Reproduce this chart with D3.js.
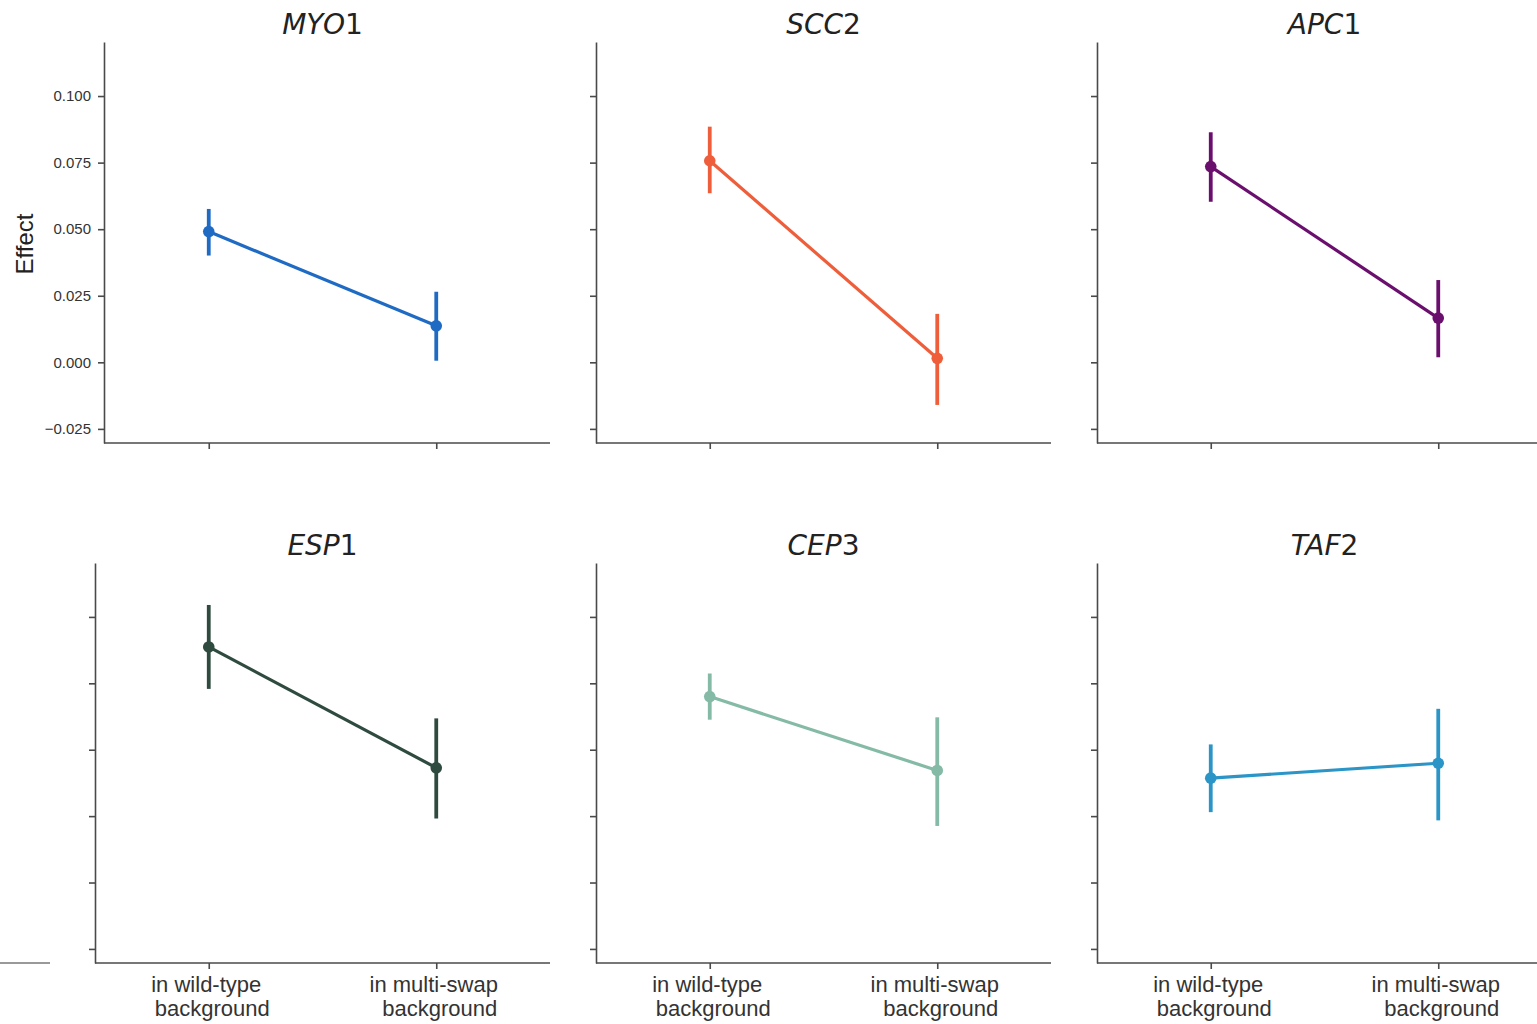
<!DOCTYPE html>
<html lang="en">
<head>
    <meta charset="UTF-8">
    <title>Gene effects by background</title>
    <script src="https://cdn.jsdelivr.net/npm/d3@7"></script>
    <style>
        body { margin: 0; background: #fff; }
        svg { display: block; }
        .tick text { font-family: "Liberation Sans", Arial, sans-serif; fill: #333; }
    </style>
</head>
<body>
    <div id="graphic"></div>

    <script>
        // gene names: italic letters + upright number
        var geneLetters = ["MYO", "SCC", "APC", "ESP", "CEP", "TAF"];
        var geneNumbers = ["1", "2", "1", "1", "3", "2"];
        var conditions = ["in wild-type background", "in multi-swap background"];
        var conditionLines = [["in wild-type", "background"], ["in multi-swap", "background"]];

        // point estimates and CI ends
        var effectMean = [
            [0.0491, 0.0137],
            [0.0757, 0.0015],
            [0.0735, 0.0166],
            [0.0887, 0.0432],
            [0.0700, 0.0422],
            [0.0393, 0.0449]
        ];
        var ciLow = [
            [0.0401, 0.0006],
            [0.0635, -0.0160],
            [0.0603, 0.0019],
            [0.0729, 0.0241],
            [0.0613, 0.0213],
            [0.0265, 0.0234]
        ];
        var ciHigh = [
            [0.0576, 0.0265],
            [0.0885, 0.0182],
            [0.0864, 0.0309],
            [0.1045, 0.0618],
            [0.0787, 0.0622],
            [0.0520, 0.0654]
        ];
        var colors = ["#1f6bc4", "#ee5e3b", "#6b0f6e", "#2f4b3f", "#85bba6", "#2b95c7"];
        var yTicks = [-0.025, 0.000, 0.025, 0.050, 0.075, 0.100];
        var yDomain = [-0.0303, 0.1203];

        var width = 1537;
        var height = 1024;

        // panel layout
        var colX = [[95, 550], [596, 1051], [1097, 1552]];
        var rowY = [[42, 443], [563, 963]];
        var spineX = [104, 596, 1097, 95, 596, 1097];
        var axisColor = "#4a4a4a";

        var svg = d3.select('#graphic')
                    .append('svg')
                    .attr('width', width)
                    .attr('height', height);

        // stray axis stub at the left edge of the source image
        svg.append('line')
            .attr('x1', 0).attr('x2', 50)
            .attr('y1', 963).attr('y2', 963)
            .attr('stroke', '#777')
            .attr('stroke-width', 1.6);

        geneLetters.forEach(function(gene, i) {
            var col = i % 3;
            var row = Math.floor(i / 3);
            var x0 = colX[col][0], x1 = colX[col][1];
            var yTop = rowY[row][0], yBottom = rowY[row][1];

            var x = d3.scalePoint()
                .domain(conditions)
                .range([x0, x1])
                .padding(0.5);

            var y = d3.scaleLinear()
                .domain(yDomain)
                .range([yBottom, yTop]);

            var panel = svg.append('g').attr('class', 'panel');

            // y axis
            var yAxis = d3.axisLeft(y)
                .tickValues(yTicks)
                .tickSize(6)
                .tickSizeOuter(0)
                .tickPadding(7)
                .tickFormat(i === 0 ? d3.format(".3f") : "");
            var yg = panel.append('g')
                .attr('transform', 'translate(' + spineX[i] + ',0)')
                .call(yAxis);
            yg.selectAll('text').style('font-size', '15px');

            // x axis
            var xAxis = d3.axisBottom(x)
                .tickSize(6)
                .tickSizeOuter(0)
                .tickFormat("");
            var xg = panel.append('g')
                .attr('transform', 'translate(0,' + yBottom + ')')
                .call(xAxis);
            xg.select('.domain').attr('d', 'M' + spineX[i] + ',0H' + x1);

            panel.selectAll('.domain, .tick line')
                .attr('stroke', axisColor)
                .attr('stroke-width', 1.6);

            // two-line category labels on the bottom row only
            if (row === 1) {
                xg.selectAll('.tick').each(function(d, k) {
                    var t = d3.select(this).append('text')
                        .attr('fill', '#333')
                        .attr('text-anchor', 'middle')
                        .style('font-family', '"Liberation Sans", Arial, sans-serif')
                        .style('font-size', '22px');
                    conditionLines[k].forEach(function(line, j) {
                        t.append('tspan')
                            .attr('x', j === 0 ? -3 : 3)
                            .attr('y', 29 + j * 24)
                            .text(line);
                    });
                });
            }

            // title
            var title = panel.append('text')
                .attr('x', (x0 + x1) / 2)
                .attr('y', yTop - 8)
                .attr('text-anchor', 'middle')
                .attr('fill', '#222')
                .style('font-family', '"DejaVu Sans", sans-serif')
                .style('font-size', '28px');
            title.append('tspan').style('font-style', 'italic').text(gene);
            title.append('tspan').text(geneNumbers[i]);

            var pts = conditions.map(function(c, k) {
                return { cond: c, mean: effectMean[i][k], lo: ciLow[i][k], hi: ciHigh[i][k] };
            });

            // error bars
            panel.selectAll('.ci')
                .data(pts)
                .join('line')
                .attr('class', 'ci')
                .attr('x1', d => x(d.cond))
                .attr('x2', d => x(d.cond))
                .attr('y1', d => y(d.lo))
                .attr('y2', d => y(d.hi))
                .attr('stroke', colors[i])
                .attr('stroke-width', 3.8);

            // connecting line
            var line = d3.line()
                .x(d => x(d.cond))
                .y(d => y(d.mean));
            panel.append('path')
                .datum(pts)
                .attr('d', line)
                .attr('fill', 'none')
                .attr('stroke', colors[i])
                .attr('stroke-width', 3.2);

            // points
            panel.selectAll('.pt')
                .data(pts)
                .join('circle')
                .attr('class', 'pt')
                .attr('cx', d => x(d.cond))
                .attr('cy', d => y(d.mean))
                .attr('r', 5.8)
                .attr('fill', colors[i]);
        });

        // shared y label
        svg.append('text')
            .attr('transform', 'translate(33,244) rotate(-90)')
            .attr('text-anchor', 'middle')
            .attr('fill', '#222')
            .style('font-family', '"Liberation Sans", Arial, sans-serif')
            .style('font-size', '24px')
            .text('Effect');
    </script>
</body>
</html>
